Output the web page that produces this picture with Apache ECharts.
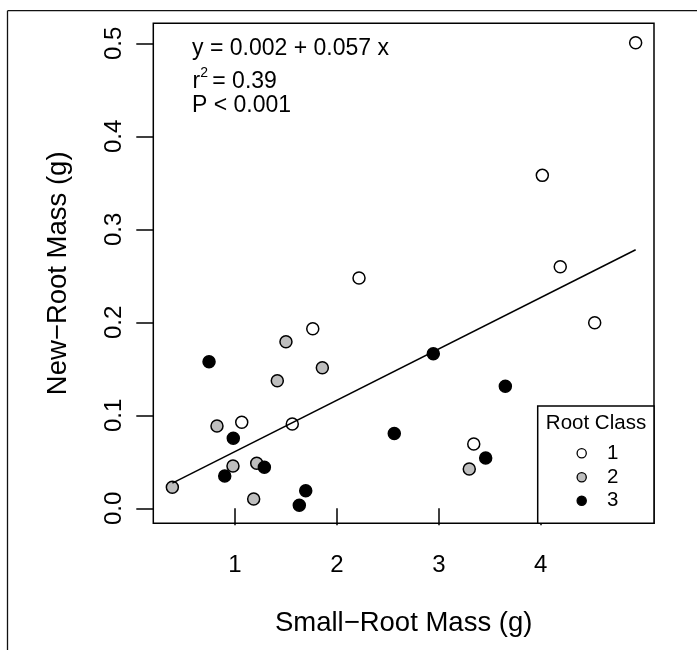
<!DOCTYPE html>
<html><head><meta charset="utf-8">
<script src="https://cdn.jsdelivr.net/npm/echarts@6/dist/echarts.min.js"></script>
<style>html,body{margin:0;padding:0;background:#fff}#c{width:697px;height:650px}</style>
</head><body><div id="c"></div>
<script>
// ---- data ----
const class1X = [4.932, 4.016, 4.192, 4.530, 2.217, 1.763, 1.066, 1.562, 3.343];
const class1Y = [0.5006, 0.358, 0.2598, 0.1996, 0.2476, 0.1931, 0.0925, 0.0906, 0.0691];
const class2X = [0.385, 1.500, 1.857, 1.415, 0.823, 0.980, 1.213, 1.183, 3.299];
const class2Y = [0.0226, 0.1791, 0.1512, 0.1372, 0.0885, 0.0455, 0.0484, 0.010, 0.0423];
const class3X = [0.745, 0.983, 2.563, 1.288, 0.899, 1.694, 1.631, 2.946, 3.653, 3.460];
const class3Y = [0.1576, 0.0753, 0.0804, 0.0441, 0.0347, 0.0189, 0.0032, 0.1662, 0.1312, 0.0541];
const fitX = [0.385, 4.932];
const fitY = [0.027, 0.278];
const xTicks = [1, 2, 3, 4];
const yTicks = [0, 0.1, 0.2, 0.3, 0.4, 0.5];
const xTitle = 'Small\u2212Root Mass (g)';
const yTitle = 'New\u2212Root Mass (g)';
const legendTitle = 'Root Class';
const legendLabels = ['1', '2', '3'];
const eqLine = 'y = 0.002 + 0.057 x';
const r2Parts = ['r', '2', '= 0.39'];
const pLine = 'P < 0.001';

const FONT = '"Liberation Sans", Arial, Helvetica, sans-serif';
const fills = ['#ffffff', '#bebebe', '#000000'];
const pairs = (xs, ys) => xs.map((x, i) => [x, ys[i]]);

const chart = echarts.init(document.getElementById('c'), null, {renderer: 'canvas'});

const G = {left: 153.3, top: 23.3, right: 654, bottom: 523.3};

const scatter = (name, xs, ys, fill) => ({
  type: 'scatter', name, data: pairs(xs, ys), symbol: 'circle', symbolSize: 12,
  itemStyle: {color: fill, borderColor: '#000', borderWidth: 1.5, opacity: 1},
  emphasis: {disabled: true}, silent: true
});

// legend graphics
const lgX = 537.7, lgY = 406, lgW = G.right - 537.7, lgH = G.bottom - 406;
const legendGraphics = [
  {type: 'rect', shape: {x: lgX, y: lgY, width: lgW, height: lgH},
   style: {fill: '#fff', stroke: '#000', lineWidth: 1.5}, z: 10},
  {type: 'text', x: 596, y: 423, z: 11,
   style: {text: legendTitle, font: '20.5px ' + FONT, fill: '#000', align: 'center', verticalAlign: 'middle'}}
];
const rowY = [453.3, 477.3, 500.7];
legendLabels.forEach((lab, i) => {
  legendGraphics.push({type: 'circle', shape: {cx: 581.7, cy: rowY[i], r: 4.6}, z: 11,
    style: {fill: fills[i], stroke: '#000', lineWidth: 1.3}});
  legendGraphics.push({type: 'text', x: 607, y: rowY[i], z: 11,
    style: {text: lab, font: '20.5px ' + FONT, fill: '#000', align: 'left', verticalAlign: 'middle'}});
});

const annoGraphics = [
  {type: 'text', x: 192, y: 48.7, style: {text: eqLine, font: '23px ' + FONT, fill: '#000', align: 'left', verticalAlign: 'middle'}},
  {type: 'text', x: 192.5, y: 82, style: {text: r2Parts[0], font: '23px ' + FONT, fill: '#000', align: 'left', verticalAlign: 'middle'}},
  {type: 'text', x: 200.3, y: 72.8, style: {text: r2Parts[1], font: '14px ' + FONT, fill: '#000', align: 'left', verticalAlign: 'middle'}},
  {type: 'text', x: 212.3, y: 82, style: {text: r2Parts[2], font: '23px ' + FONT, fill: '#000', align: 'left', verticalAlign: 'middle'}},
  {type: 'text', x: 192, y: 105.3, style: {text: pLine, font: '23px ' + FONT, fill: '#000', align: 'left', verticalAlign: 'middle'}}
];

const frameGraphics = [
  {type: 'line', shape: {x1: 7.5, y1: 10.7, x2: 697, y2: 10.7}, style: {stroke: '#111', lineWidth: 1.3}},
  {type: 'line', shape: {x1: 7.5, y1: 10.7, x2: 7.5, y2: 650}, style: {stroke: '#111', lineWidth: 1.3}}
];

const option = {
  animation: false,
  backgroundColor: '#fff',
  textStyle: {fontFamily: FONT},
  grid: {left: G.left, top: G.top, width: G.right - G.left, height: G.bottom - G.top,
         show: true, borderColor: '#000', borderWidth: 1.5, backgroundColor: 'transparent',
         containLabel: false, outerBoundsMode: 'none'},
  xAxis: {
    type: 'value', min: 0.198, max: 5.112,
    name: xTitle, nameLocation: 'middle', nameGap: 86,
    nameTextStyle: {fontSize: 27.5, color: '#000', fontFamily: FONT},
    axisLine: {show: false},
    axisTick: {show: true, inside: false, length: 17, customValues: xTicks, lineStyle: {color: '#000', width: 1.5}},
    axisLabel: {show: true, customValues: xTicks, margin: 30, fontSize: 24, color: '#000', fontFamily: FONT,
                formatter: v => String(v)},
    splitLine: {show: false}
  },
  yAxis: {
    type: 'value', min: -0.01613, max: 0.5215,
    name: yTitle, nameLocation: 'middle', nameGap: 81, nameRotate: 90,
    nameTextStyle: {fontSize: 27.5, color: '#000', fontFamily: FONT},
    axisLine: {show: false},
    axisTick: {show: true, inside: false, length: 17, customValues: yTicks, lineStyle: {color: '#000', width: 1.5}},
    axisLabel: {show: true, customValues: yTicks, margin: 27, rotate: 90, fontSize: 24, color: '#000', fontFamily: FONT,
                formatter: v => v.toFixed(1)},
    splitLine: {show: false}
  },
  series: [
    scatter('1', class1X, class1Y, fills[0]),
    scatter('2', class2X, class2Y, fills[1]),
    scatter('3', class3X, class3Y, fills[2]),
    {type: 'line', data: pairs(fitX, fitY), showSymbol: false, symbol: 'none',
     lineStyle: {color: '#000', width: 1.5}, silent: true, z: 3}
  ],
  graphic: [...frameGraphics, ...annoGraphics, ...legendGraphics]
};
chart.setOption(option);
</script>
</body></html>
